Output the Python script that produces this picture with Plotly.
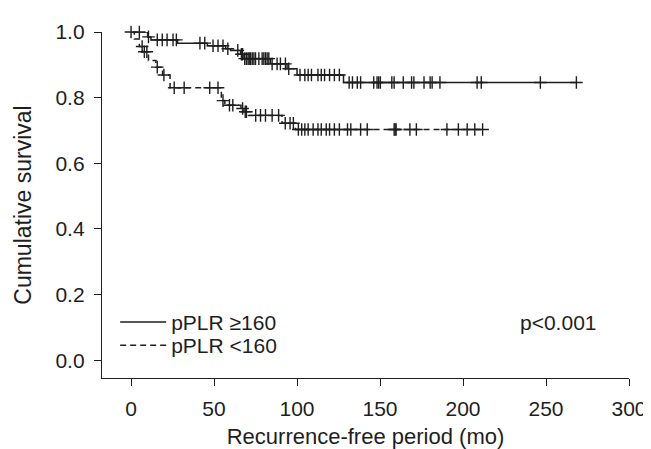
import numpy as np
import plotly.graph_objects as go

# ---- data ----
# pPLR >=160 (solid): step times (months) and survival after each step
hi_time = [0, 10, 12, 28, 46, 57, 60, 66, 68, 84, 94, 100, 128, 268.3]
hi_surv = [1.0, 0.985, 0.976, 0.966, 0.958, 0.949, 0.944, 0.932, 0.919, 0.903, 0.888, 0.869, 0.846, 0.846]
hi_cens = [0, 5, 10.5, 15.8, 18.8, 21.7, 25.3, 27.3, 41.5, 44.4, 49.4, 52.4, 55.4, 58.3, 64.3,
           66.5, 67.2, 68.5, 69.5, 70.5, 71.2, 72, 73, 74, 75, 77, 79, 80, 81, 82, 83,
           85, 88, 90, 93, 95,
           101.8, 104.7, 106.7, 108.7, 112.6, 114.6, 116.6, 119.6, 122.5, 125.5,
           131.4, 133.4, 136.3, 138.3, 146.2, 148.2, 149.2, 150.2, 157.1, 158.5, 164,
           169, 170.4, 176.5, 180.2, 181.4, 186.1, 208.5, 211, 246.6, 268.3]

# pPLR <160 (dashed)
lo_time = [0, 2, 5, 7, 10.5, 15, 19, 23.5, 54.4, 56.5, 66.2, 68, 70, 91, 99, 211.8]
lo_surv = [1.0, 0.979, 0.956, 0.94, 0.913, 0.893, 0.869, 0.83, 0.791, 0.777, 0.767, 0.757, 0.746, 0.722, 0.703, 0.703]
lo_cens = [6.7, 8, 9.5, 15.8, 19.8, 26, 32, 47.4, 52.4, 55.4, 59.3, 61.3, 67.2, 68.8, 69.5,
           75.1, 78, 81, 85, 88.9, 92.9, 95.8, 97.8,
           100.8, 102.8, 104.7, 106.7, 109.7, 112.6, 114.6, 117.6, 119.6, 122.5, 125.5,
           130.4, 132.4, 138.3, 142.3, 158.5, 159.1, 159.7, 168, 171.9, 190.3, 197.2,
           202.5, 207.1, 211.8]

series_names = ["pPLR \u2265160", "pPLR <160"]
x_ticks = [0, 50, 100, 150, 200, 250, 300]
y_ticks = [0.0, 0.2, 0.4, 0.6, 0.8, 1.0]
p_text = "p<0.001"


def level_at(times, survs, t):
    idx = np.searchsorted(np.array(times), t, side="right") - 1
    return survs[max(idx, 0)]


INK = "#1e1e1e"
FONT = "Liberation Sans, Arial, sans-serif"
FS = 21
FT = 22

fig = go.Figure()

for times, survs, cens, name, dash, leg in [
    (hi_time, hi_surv, hi_cens, series_names[0], "solid", "legend"),
    (lo_time, lo_surv, lo_cens, series_names[1], "6px,4px", "legend2"),
]:
    fig.add_trace(go.Scatter(
        x=times, y=survs, mode="lines", line_shape="hv", name=name,
        line=dict(color=INK, width=1.5, dash=dash), showlegend=True, legend=leg,
        cliponaxis=False,
    ))
    fig.add_trace(go.Scatter(
        x=cens, y=[level_at(times, survs, c) for c in cens], mode="markers",
        marker=dict(symbol="cross-thin", size=9, color=INK,
                    line=dict(color=INK, width=1.4)),
        showlegend=False, cliponaxis=False, hoverinfo="skip",
    ))

fig.add_annotation(x=233, y=0.114, xref="x", yref="y", text=p_text, showarrow=False,
                   xanchor="left", yanchor="middle", font=dict(family=FONT, size=FS, color=INK))

axis_common = dict(
    showline=True, linecolor=INK, linewidth=1.3, ticks="outside", ticklen=7,
    tickwidth=1.3, tickcolor=INK, showgrid=False, zeroline=False,
    tickfont=dict(family=FONT, size=FS, color=INK), mirror=False,
)

leg_common = dict(xanchor="left", yanchor="middle", bgcolor="rgba(0,0,0,0)",
                  font=dict(family=FONT, size=FS, color=INK), itemwidth=46)

fig.update_layout(
    width=651, height=449,
    margin=dict(l=94, r=21, t=17, b=72),
    paper_bgcolor="white", plot_bgcolor="white",
    xaxis=dict(range=[-17.5, 300], tickvals=x_ticks, ticktext=[str(v) for v in x_ticks],
               ticklabelstandoff=5,
               title=dict(text="Recurrence-free period (mo)", standoff=9,
                          font=dict(family=FONT, size=FT, color=INK)),
               **axis_common),
    yaxis=dict(range=[-0.054, 1.0], tickvals=y_ticks, ticktext=[f"{v:.1f}" for v in y_ticks],
               ticklabelstandoff=5,
               title=dict(text="Cumulative survival", standoff=17,
                          font=dict(family=FONT, size=FT + 1, color=INK)),
               **axis_common),
    legend=dict(x=0.025, y=0.161, **leg_common),
    legend2=dict(x=0.025, y=0.094, **leg_common),
    showlegend=True,
)

fig.write_html("out.html")
